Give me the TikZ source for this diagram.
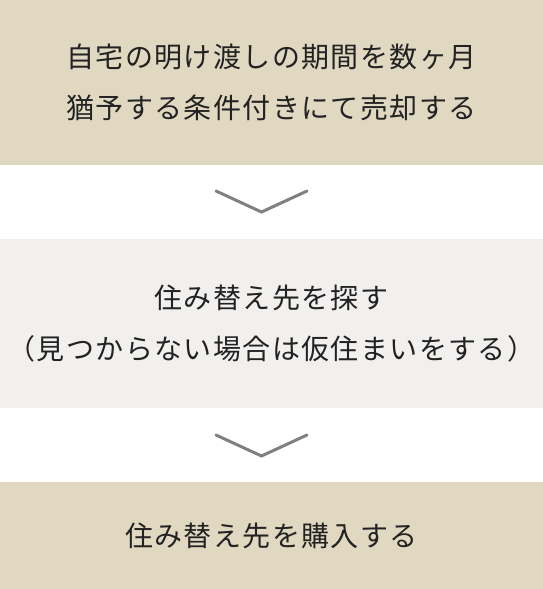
\documentclass[tikz,border=0pt]{standalone}
\usepackage{fontspec}
\usepackage{tikz}
\newfontfamily\jpfont[LetterSpace=5]{Noto Sans CJK JP}
\definecolor{beige}{HTML}{E1D8C1}
\definecolor{pale}{HTML}{F1F0EE}
\definecolor{chevgray}{HTML}{808080}
\definecolor{ink}{HTML}{222222}
\tikzset{
  stage/.style={rectangle, minimum width=543pt, inner sep=0pt, align=center, text=ink, font=\jpfont\fontsize{28}{51}\selectfont},
  chev/.style={draw=chevgray, line width=3pt, line cap=round, line join=miter}
}
\begin{document}
\begin{tikzpicture}[x=1pt,y=-1pt]
  \useasboundingbox (0,0) rectangle (543,589);
  \node[stage, fill=beige, minimum height=165pt] (sell) at (271.5,82.5) {自宅の明け渡しの期間を数ヶ月\\猶予する条件付きにて売却する};
  \node[stage, fill=pale, minimum height=169.5pt] (search) at (271.5,323.25) {住み替え先を探す\\（見つからない場合は仮住まいをする）};
  \node[stage, fill=beige, minimum height=107pt] (buy) at (271.5,535.5) {住み替え先を購入する};
  \coordinate (v1) at (261.5,212);
  \coordinate (v2) at (261.5,456);
  \draw[chev] (v1) ++(-45.5,-21) -- (v1) -- ++(45.5,-21);
  \draw[chev] (v2) ++(-45.5,-21) -- (v2) -- ++(45.5,-21);
\end{tikzpicture}
\end{document}
